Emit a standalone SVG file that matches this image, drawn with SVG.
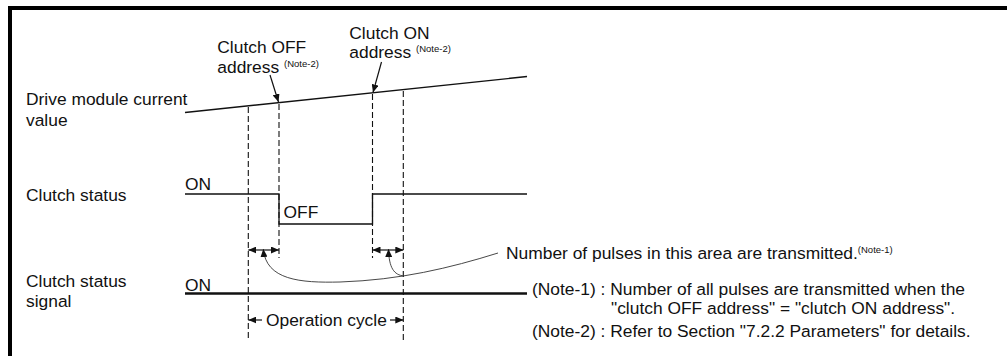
<svg xmlns="http://www.w3.org/2000/svg" width="1007" height="356" viewBox="0 0 1007 356">
<style>
text{font-family:"Liberation Sans",Arial,sans-serif;font-size:17.4px;fill:#111}
.sup{font-size:9.5px}
.ln{stroke:#111;stroke-width:1.3;fill:none}
.thick{stroke:#111;stroke-width:2.6;fill:none}
.dash{stroke:#111;stroke-width:1.1;stroke-dasharray:6 3;fill:none}
.thin{stroke:#333;stroke-width:0.9;fill:none}
.arr{stroke:#111;stroke-width:1.2;fill:none}
</style>
<defs>
<marker id="ah" viewBox="0 0 8 7" refX="8" refY="3.5" markerWidth="8" markerHeight="7" markerUnits="userSpaceOnUse" orient="auto-start-reverse">
<path d="M0,0 L8,3.5 L0,7 z" fill="#111"/>
</marker>
</defs>
<g id="frame">
<rect x="8" y="6" width="999" height="4" fill="#000"/>
<rect x="8" y="6" width="4" height="350" fill="#000"/>
</g>
<g id="drive-module">
<text x="26" y="105">Drive module current</text>
<text x="26" y="125.5">value</text>
<path class="ln" d="M185,112.5 L527,76.5"/>
</g>
<g id="clutch-off-address">
<text x="217.3" y="53.3">Clutch OFF</text>
<text x="217.3" y="72.5">address <tspan class="sup" dy="-6">(Note-2)</tspan></text>
</g>
<g id="clutch-on-address">
<text x="349.3" y="39">Clutch ON</text>
<text x="349.3" y="57.5">address <tspan class="sup" dy="-6">(Note-2)</tspan></text>
</g>
<g id="clutch-status">
<text x="26" y="200.5">Clutch status</text>
<text x="185" y="190">ON</text>
<text x="283.5" y="218">OFF</text>
<path class="ln" d="M185,194 H279 V224 H372.5 V194 H527"/>
</g>
<g id="clutch-status-signal">
<text x="26" y="287">Clutch status</text>
<text x="26" y="306.5">signal</text>
<text x="185" y="290.5">ON</text>
<path class="thick" d="M185,293.5 H527"/>
</g>
<g id="pulses-label">
<text x="506" y="258.5">Number of pulses in this area are transmitted.<tspan class="sup" dy="-6">(Note-1)</tspan></text>
</g>
<g id="notes">
<text x="532" y="295">(Note-1) : Number of all pulses are transmitted when the</text>
<text x="611" y="314">"clutch OFF address" = "clutch ON address".</text>
<text x="532" y="337">(Note-2) : Refer to Section "7.2.2 Parameters" for details.</text>
</g>
<g id="operation-cycle">
<text x="266" y="326">Operation cycle</text>
</g>
<g id="connectors">
<path class="dash" d="M248.3,107 V341"/>
<path class="dash" d="M279,104 V258"/>
<path class="dash" d="M372.5,94 V258"/>
<path class="dash" d="M403.3,91 V341"/>
<path class="arr" d="M270,75 L278.5,102" marker-end="url(#ah)"/>
<path class="arr" d="M381.5,62 L373,92.5" marker-end="url(#ah)"/>
<path class="arr" d="M248.3,250 H279" marker-start="url(#ah)" marker-end="url(#ah)"/>
<path class="arr" d="M372.5,250 H403.3" marker-start="url(#ah)" marker-end="url(#ah)"/>
<path class="thin" d="M263.3,249 C266,280 300,283 340,282 C400,280 450,268 498,253" marker-start="url(#ah)"/>
<path class="thin" d="M388.5,249 C389,268 394,275 404,276" marker-start="url(#ah)"/>
<path class="arr" d="M262,320 H248.3" marker-end="url(#ah)"/>
<path class="arr" d="M390,320 H403.3" marker-end="url(#ah)"/>
</g>
</svg>
